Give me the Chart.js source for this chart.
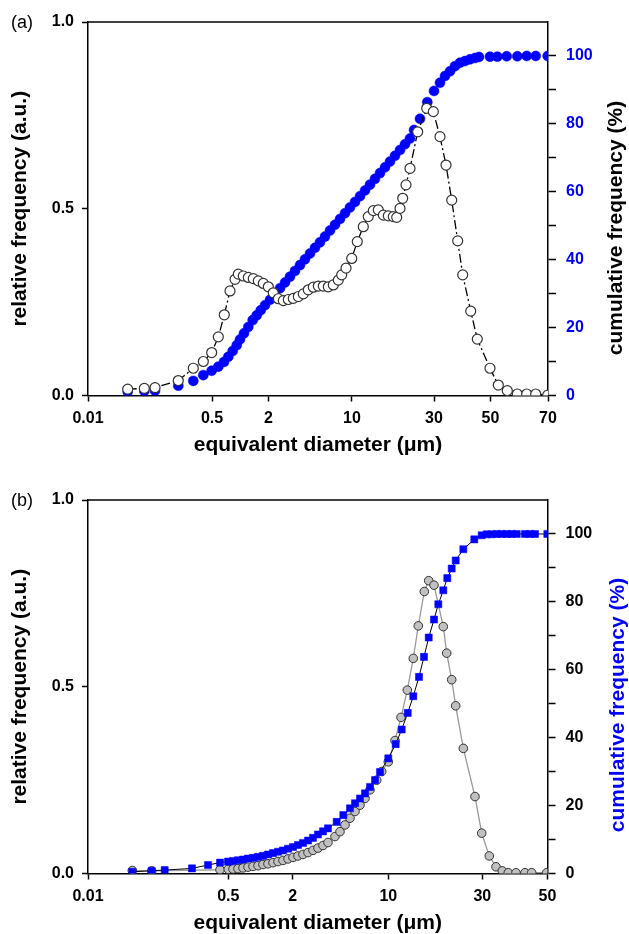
<!DOCTYPE html>
<html>
<head>
<meta charset="utf-8">
<script src="https://cdn.jsdelivr.net/npm/chart.js@4.4.1/dist/chart.umd.min.js"></script>
<style>
  html, body { margin: 0; padding: 0; background: #fff; }
  #page { position: relative; width: 629px; height: 934px; font-family: "Liberation Sans", Arial, sans-serif; }
  .panel { position: absolute; left: 0; width: 629px; height: 467px; }
  .tag { position: absolute; left: 11px; font-size: 18px; line-height: 20px; }
  .rtitle { position: absolute; width: 300px; text-align: center; font-weight: bold; font-size: 21px; line-height: 24px; transform: rotate(-90deg); }
</style>
</head>
<body>
<div id="page">
  <div class="panel" style="top:0"><canvas id="chartA" width="629" height="467"></canvas></div>
  <div class="panel" style="top:467px"><canvas id="chartB" width="629" height="467"></canvas></div>
  <div class="tag" style="top:12px">(a)</div>
  <div class="tag" style="top:490px">(b)</div>
  <div class="rtitle" style="left:465px;top:216px;color:#000">cumulative frequency (%)</div>
  <div class="rtitle" style="left:467px;top:693px;color:#0000ff">cumulative frequency (%)</div>
</div>
<script>
// x values are read as position along the (non-uniform) diameter axis, 0 = left end, 100 = right end

// (a) tick positions and their labels
const tickPosA = [0, 26.96, 39.24, 57.39, 75.22, 87.5, 100];
const tickLblA = ['0.01', '0.5', '2', '10', '30', '50', '70'];

// (a) relative frequency (open circles)
const posA_rel = [8.63, 12.24, 14.57, 19.63, 22.89, 25.07, 26.89, 28.33, 29.63, 30.87, 31.96, 32.67, 33.76, 34.85, 35.93, 37.02,
  38.11, 39.20, 40.28, 41.37, 42.46, 43.54, 44.63, 45.72, 46.80, 47.89, 48.98, 50.07, 51.15, 52.24, 53.33, 54.41, 55.15, 56.09,
  57.33, 58.54, 59.85, 60.93, 62.02, 63.11, 64.20, 65.28, 66.37, 67.11, 67.83, 68.41, 69.13, 70.00, 71.67, 73.63, 75.07, 76.52,
  77.83, 79.07, 80.37, 81.46, 83.20, 84.63, 87.39, 89.20, 91.15, 93.33, 95.37, 97.33, 99.93];
const relA = [0.017, 0.019, 0.021, 0.040, 0.073, 0.091, 0.115, 0.157, 0.216, 0.280, 0.311, 0.325, 0.320, 0.316, 0.313, 0.307,
  0.300, 0.291, 0.275, 0.259, 0.254, 0.257, 0.260, 0.265, 0.272, 0.283, 0.290, 0.293, 0.293, 0.291, 0.296, 0.309, 0.323, 0.341,
  0.367, 0.412, 0.452, 0.479, 0.495, 0.497, 0.483, 0.481, 0.479, 0.477, 0.501, 0.528, 0.564, 0.608, 0.706, 0.769, 0.760, 0.693,
  0.617, 0.523, 0.414, 0.323, 0.226, 0.151, 0.073, 0.028, 0.013, 0.004, 0.004, 0.004, 0.001];

// (a) cumulative frequency (blue dots)
const posA_cum = [8.63, 12.24, 14.57, 19.63, 22.89, 25.07, 26.89, 28.33, 29.57, 30.50, 31.46, 32.33, 33.04, 33.91, 34.85, 35.80,
  36.67, 37.54, 38.48, 39.57, 40.65, 41.74, 42.83, 43.91, 45.00, 46.09, 47.17, 48.26, 49.35, 50.43, 51.52, 52.61, 53.70, 54.78,
  55.87, 56.96, 58.04, 59.13, 60.22, 61.30, 62.39, 63.48, 64.57, 65.65, 66.74, 67.83, 68.91, 70.00, 70.87, 72.17, 73.76, 75.22,
  76.52, 77.61, 78.70, 79.78, 80.87, 81.96, 83.04, 84.13, 85.00, 87.39, 88.98, 91.02, 93.33, 95.37, 97.33, 99.93];
const cumA = [1.1, 1.3, 1.4, 2.9, 4.3, 6.0, 7.3, 8.5, 9.9, 11.4, 13.1, 14.8, 16.5, 18.3, 20.2, 22.2,
  23.6, 25.1, 26.6, 28.2, 29.9, 31.6, 33.3, 35.0, 36.7, 38.4, 40.1, 41.8, 43.5, 45.1, 46.8, 48.6, 50.3, 52.0,
  53.7, 55.4, 57.0, 58.7, 60.4, 62.1, 63.8, 65.5, 67.2, 68.9, 70.6, 72.3, 74.0, 75.7, 78.2, 81.5, 86.4, 89.7,
  92.1, 94.1, 95.5, 97.0, 98.0, 98.5, 99.0, 99.4, 99.7, 99.8, 99.8, 99.9, 99.9, 100, 100, 100];

// (b) tick positions and their labels
const tickPosB = [0, 30.53, 44.54, 65.35, 85.81, 100];
const tickLblB = ['0.01', '0.5', '2', '10', '30', '50'];

// (b) relative frequency (grey circles)
const posB_rel = [9.64, 13.86, 28.73, 30.53, 31.56, 32.64, 33.73, 34.82, 35.91, 37.00, 38.08, 39.17, 40.26, 41.35, 42.44,
  43.53, 44.61, 45.70, 46.79, 47.88, 48.97, 50.05, 51.14, 52.23, 53.75, 54.84, 55.93, 57.02, 58.11, 59.19, 60.28, 61.37,
  62.83, 63.92, 65.35, 66.81, 68.12, 69.49, 70.79, 71.88, 73.19, 74.15, 75.30, 77.32, 78.06, 79.15, 80.02, 81.68, 84.22,
  85.68, 87.33, 88.79, 90.16, 91.47, 93.14, 95.10, 96.56, 99.83];
const relB = [0.008, 0.007, 0.010, 0.011, 0.012, 0.013, 0.015, 0.017, 0.019, 0.021, 0.024, 0.026, 0.029, 0.032, 0.035,
  0.039, 0.043, 0.047, 0.051, 0.056, 0.062, 0.068, 0.075, 0.083, 0.099, 0.112, 0.130, 0.148, 0.166, 0.183, 0.201, 0.224,
  0.250, 0.273, 0.299, 0.356, 0.418, 0.491, 0.576, 0.663, 0.755, 0.784, 0.772, 0.661, 0.590, 0.519, 0.449, 0.335, 0.206,
  0.108, 0.047, 0.018, 0.007, 0.002, 0.002, 0.002, 0.002, 0.002];

// (b) cumulative frequency (blue squares)
const posB_cum = [9.64, 13.86, 16.69, 22.63, 26.12, 28.73, 30.47, 31.56, 32.64, 33.73, 34.82, 35.91, 37.00, 38.08, 39.17,
  40.26, 41.35, 42.44, 43.53, 44.61, 45.70, 46.79, 47.88, 48.97, 50.05, 51.14, 52.23, 54.12, 55.56, 57.02, 58.11, 59.19,
  60.28, 61.37, 62.46, 63.55, 65.35, 66.96, 68.27, 69.58, 70.79, 72.03, 73.12, 74.15, 75.30, 76.24, 77.32, 78.19, 79.15,
  80.02, 81.68, 84.07, 85.68, 86.77, 87.86, 88.94, 90.03, 91.12, 92.21, 93.30, 95.10, 96.19, 97.28, 99.96];
const cumB = [0.5, 0.8, 1.0, 1.5, 2.5, 3.2, 3.5, 3.7, 3.9, 4.1, 4.4, 4.6, 4.9, 5.2, 5.6,
  6.0, 6.4, 6.8, 7.3, 7.8, 8.4, 9.0, 9.7, 10.5, 11.5, 12.4, 13.3, 15.2, 17.2, 19.2, 20.7, 22.1,
  23.6, 25.5, 27.5, 29.9, 33.9, 38.1, 42.4, 47.3, 52.2, 57.9, 63.8, 69.5, 74.8, 79.3, 83.4, 87.0, 89.8,
  92.2, 95.5, 98.4, 99.6, 99.9, 99.9, 100, 100, 100, 100, 100, 100, 100, 100, 100];

const BLUE = '#0000ff';
Chart.defaults.font.family = '"Liberation Sans", Arial, sans-serif';

const pts = (xs, ys) => xs.map((x, i) => ({ x, y: ys[i] }));

// top edge of the frame box
const frameTop = {
  id: 'frameTop',
  afterDraw(chart) {
    const { ctx, chartArea: a } = chart;
    ctx.save();
    ctx.strokeStyle = '#000';
    ctx.lineWidth = 1.5;
    ctx.beginPath();
    ctx.moveTo(a.left, a.top);
    ctx.lineTo(a.right, a.top);
    ctx.stroke();
    ctx.restore();
  }
};

function makeChart(id, p) {
  const tickFont = { size: 16, weight: 'bold' };
  const titleFont = { size: 21, weight: 'bold', lineHeight: 1 };
  return new Chart(document.getElementById(id), {
    type: 'line',
    data: { datasets: p.datasets },
    plugins: [frameTop],
    options: {
      responsive: false,
      animation: false,
      layout: { padding: { top: p.padTop, left: 0, right: 0, bottom: 0 } },
      plugins: { legend: { display: false }, tooltip: { enabled: false } },
      scales: {
        x: {
          type: 'linear', min: 0, max: 100,
          afterBuildTicks: s => { s.ticks = p.tickPos.map(v => ({ value: v })); },
          afterFit: s => { s.height = p.xHeight; },
          ticks: { autoSkip: false, maxRotation: 0, padding: 7, color: '#000', font: tickFont,
            callback: (v, i) => p.tickLbl[i] },
          grid: { drawOnChartArea: false, tickLength: 6, tickWidth: 1.5, tickColor: '#000' },
          border: { color: '#000', width: 1.5 },
          title: { display: true, text: 'equivalent diameter (μm)', color: '#000', font: titleFont,
            padding: { top: 0, bottom: p.xTitlePad } }
        },
        y: {
          position: 'left', min: 0, max: 1,
          afterFit: s => { s.width = p.leftW; },
          ticks: { stepSize: 0.5, padding: 8, color: '#000', font: tickFont, callback: v => v.toFixed(1) },
          grid: { drawOnChartArea: false, tickLength: 6, tickWidth: 1.5, tickColor: '#000' },
          border: { color: '#000', width: 1.5 },
          title: { display: true, text: 'relative frequency (a.u.)', color: '#000', font: titleFont,
            padding: { top: 9.5, bottom: 0 } }
        },
        y1: {
          position: 'right', min: 0, max: 110,
          afterFit: s => { s.width = p.rightW; },
          afterBuildTicks: s => { s.ticks = s.ticks.filter(t => t.value <= 100); },
          ticks: { stepSize: 10, padding: 10, color: p.rightTickColor, font: tickFont,
            callback: v => (v % 20 === 0 ? v : '') },
          grid: { drawOnChartArea: false, tickLength: 8, tickWidth: 1.5, tickColor: '#000' },
          border: { color: '#000', width: 1.5 }
        }
      }
    }
  });
}

makeChart('chartA', {
  padTop: 22, xHeight: 71.5, xTitlePad: 11.5, leftW: 88, rightW: 81,
  tickPos: tickPosA, tickLbl: tickLblA, rightTickColor: BLUE,
  datasets: [
    {
      label: 'relative frequency', data: pts(posA_rel, relA), yAxisID: 'y',
      borderColor: '#000', borderWidth: 1.3, borderDash: [9, 3, 2, 3], tension: 0, fill: false,
      pointRadius: 5, pointBackgroundColor: '#fff', pointBorderColor: '#333', pointBorderWidth: 1.2
    },
    {
      label: 'cumulative frequency', data: pts(posA_cum, cumA), yAxisID: 'y1', showLine: false,
      pointRadius: 5, pointBackgroundColor: BLUE, pointBorderColor: BLUE, pointBorderWidth: 0.5
    }
  ]
});

makeChart('chartB', {
  padTop: 33, xHeight: 60.5, xTitlePad: 0.5, leftW: 88, rightW: 81.5,
  tickPos: tickPosB, tickLbl: tickLblB, rightTickColor: '#000',
  datasets: [
    {
      label: 'cumulative frequency', data: pts(posB_cum, cumB), yAxisID: 'y1',
      borderColor: '#000', borderWidth: 1, tension: 0, fill: false,
      pointStyle: 'rect', pointRadius: 5, pointBackgroundColor: BLUE, pointBorderColor: BLUE, pointBorderWidth: 0.5
    },
    {
      label: 'relative frequency', data: pts(posB_rel, relB), yAxisID: 'y',
      borderColor: '#999', borderWidth: 1.3, tension: 0, fill: false,
      pointRadius: 4.3, pointBackgroundColor: '#c0c0c0', pointBorderColor: '#333', pointBorderWidth: 1
    }
  ]
});
</script>
</body>
</html>
